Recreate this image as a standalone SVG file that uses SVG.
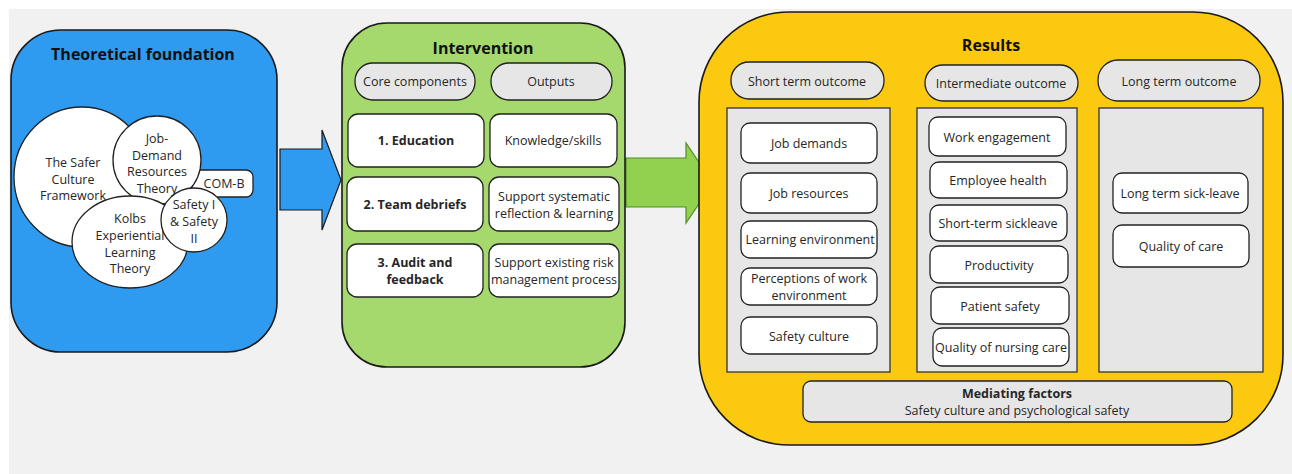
<svg xmlns="http://www.w3.org/2000/svg" width="1292" height="474" viewBox="0 0 1292 474">
  <style>
    text { font-family: "Open Sans", "DejaVu Sans", sans-serif; fill: #262626; text-anchor: middle; dominant-baseline: central; font-size: 12.5px; }
    .title { font-size: 16px; font-weight: bold; fill: #111; }
    .bold { font-weight: bold; }
    .panel { stroke: #1a1a1a; stroke-width: 1.6; }
    .box { fill: #fff; stroke: #222; stroke-width: 1.3; }
    .pill { fill: #e6e6e6; stroke: #222; stroke-width: 1.3; }
    .col { fill: #e6e6e6; stroke: #333; stroke-width: 1.3; }
    .bubble { fill: #fff; stroke: #222; stroke-width: 1.3; }
  </style>

  <!-- page background -->
  <rect x="0" y="0" width="1292" height="474" fill="#ffffff"/>
  <rect x="9" y="9" width="1283" height="465" fill="#f1f1f1"/>

  <!-- Theoretical foundation -->
  <g id="theory">
    <rect class="panel" x="11" y="30" width="266" height="322" rx="50" fill="#2f9bf0"/>
    <text class="title" x="143" y="54">Theoretical foundation</text>
    <rect class="bubble" x="192" y="170" width="61" height="27" rx="7"/>
    <text x="224" y="183">COM-B</text>
    <ellipse class="bubble" cx="82" cy="177" rx="68" ry="70"/>
    <text x="73" y="162">The Safer</text>
    <text x="73" y="179">Culture</text>
    <text x="73" y="195">Framework</text>
    <circle class="bubble" cx="157" cy="160" r="44"/>
    <text x="157" y="138">Job-</text>
    <text x="157" y="155">Demand</text>
    <text x="157" y="171">Resources</text>
    <text x="157" y="188">Theory</text>
    <ellipse class="bubble" cx="130" cy="242" rx="58" ry="46"/>
    <text x="130" y="218">Kolbs</text>
    <text x="130" y="235">Experiential</text>
    <text x="130" y="252">Learning</text>
    <text x="130" y="268">Theory</text>
    <ellipse class="bubble" cx="194" cy="220" rx="33" ry="32"/>
    <text x="194" y="204">Safety I</text>
    <text x="194" y="221">&amp; Safety</text>
    <text x="194" y="238">II</text>
  </g>

  <!-- connectors -->
  <g id="connectors">
    <polygon points="280,149 322,149 322,130 341,180 322,230 322,210 280,210" fill="#2f9bf0" stroke="#1a1a1a" stroke-width="1.2"/>
    <polygon points="626,158 686,158 686,143 713,183 686,223 686,207 626,207" fill="#92d050" stroke="#4f8f22" stroke-width="1.2"/>
  </g>

  <!-- Intervention -->
  <g id="intervention">
    <rect class="panel" x="342" y="23" width="283" height="344" rx="45" fill="#a5d86d"/>
    <text class="title" x="483" y="48">Intervention</text>
    <rect class="pill" x="355" y="63" width="120" height="37" rx="18"/>
    <text x="415" y="81">Core components</text>
    <rect class="pill" x="491" y="63" width="121" height="37" rx="18"/>
    <text x="551" y="81">Outputs</text>

    <rect class="box" x="348" y="114" width="136" height="53" rx="10"/>
    <text class="bold" x="416" y="140">1. Education</text>
    <rect class="box" x="490" y="114" width="127" height="53" rx="10"/>
    <text x="553" y="140">Knowledge/skills</text>

    <rect class="box" x="347" y="177" width="136" height="54" rx="10"/>
    <text class="bold" x="415" y="204">2. Team debriefs</text>
    <rect class="box" x="489" y="177" width="130" height="54" rx="10"/>
    <text x="554" y="196">Support systematic</text>
    <text x="554" y="213">reflection &amp; learning</text>

    <rect class="box" x="347" y="244" width="136" height="53" rx="10"/>
    <text class="bold" x="415" y="262">3. Audit and</text>
    <text class="bold" x="415" y="279">feedback</text>
    <rect class="box" x="489" y="244" width="130" height="53" rx="10"/>
    <text x="554" y="262">Support existing risk</text>
    <text x="554" y="279">management process</text>
  </g>

  <!-- Results -->
  <g id="results">
    <rect class="panel" x="699" y="12" width="584" height="433" rx="90" fill="#fbc90f"/>
    <text class="title" x="991" y="45">Results</text>

    <rect class="pill" x="731" y="62" width="153" height="37" rx="18"/>
    <text x="807" y="81">Short term outcome</text>
    <rect class="pill" x="925" y="65" width="153" height="36" rx="18"/>
    <text x="1001" y="83">Intermediate outcome</text>
    <rect class="pill" x="1098" y="60" width="162" height="41" rx="20"/>
    <text x="1179" y="81">Long term outcome</text>

    <rect class="col" x="727" y="108" width="163" height="264"/>
    <rect class="col" x="917" y="108" width="160" height="264"/>
    <rect class="col" x="1099" y="108" width="164" height="264"/>
  </g>

  <g id="short-term">
    <rect class="box" x="741" y="123" width="136" height="40" rx="9"/>
    <text x="809" y="143">Job demands</text>
    <rect class="box" x="741" y="173" width="136" height="40" rx="9"/>
    <text x="809" y="193">Job resources</text>
    <rect class="box" x="741" y="221" width="136" height="37" rx="9"/>
    <text x="810" y="239">Learning environment</text>
    <rect class="box" x="741" y="268" width="136" height="37" rx="9"/>
    <text x="809" y="278">Perceptions of work</text>
    <text x="809" y="295">environment</text>
    <rect class="box" x="741" y="317" width="136" height="37" rx="9"/>
    <text x="809" y="336">Safety culture</text>
  </g>

  <g id="intermediate">
    <rect class="box" x="929" y="117" width="137" height="39" rx="9"/>
    <text x="997" y="137">Work engagement</text>
    <rect class="box" x="930" y="162" width="137" height="36" rx="9"/>
    <text x="998" y="180">Employee health</text>
    <rect class="box" x="930" y="205" width="137" height="36" rx="9"/>
    <text x="998" y="223">Short-term sickleave</text>
    <rect class="box" x="930" y="246" width="138" height="37" rx="9"/>
    <text x="999" y="265">Productivity</text>
    <rect class="box" x="931" y="287" width="138" height="37" rx="9"/>
    <text x="1000" y="306">Patient safety</text>
    <rect class="box" x="933" y="328" width="136" height="38" rx="9"/>
    <text x="1001" y="347">Quality of nursing care</text>
  </g>

  <g id="long-term">
    <rect class="box" x="1113" y="173" width="135" height="40" rx="9"/>
    <text x="1180" y="193">Long term sick-leave</text>
    <rect class="box" x="1113" y="225" width="136" height="42" rx="9"/>
    <text x="1181" y="246">Quality of care</text>
  </g>

  <g id="mediating">
    <rect class="pill" x="803" y="381" width="429" height="41" rx="8"/>
    <text class="bold" x="1017" y="393">Mediating factors</text>
    <text x="1017" y="410">Safety culture and psychological safety</text>
  </g>
</svg>
